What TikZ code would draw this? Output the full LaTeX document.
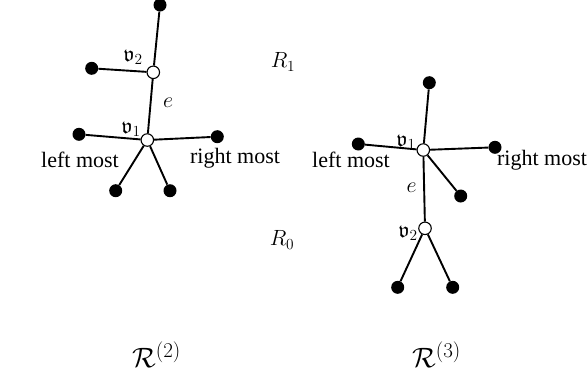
\RequirePackage{fix-cm}
\documentclass[tikz,border=0pt]{standalone}
\usepackage{amssymb}
\usepackage{fontspec}
\setmainfont{Liberation Serif}
\DeclareMathSizes{28}{28}{21}{16}
\begin{document}
\begin{tikzpicture}[x=1pt,y=-1pt,
  dot/.style={circle,fill=black,inner sep=0pt,minimum size=13pt},
  wv/.style={circle,draw=black,fill=white,line width=1.1pt,inner sep=0pt,minimum size=12.5pt},
  lbl/.style={inner sep=0pt,font=\fontsize{22}{26}\selectfont},
  captxt/.style={inner sep=0pt,font=\fontsize{28}{32}\selectfont},
  edge/.style={line width=1.9pt}]
\useasboundingbox (0,0) rectangle (588,376);
% left diagram R^(2)
\node[dot] (la) at (160,5) {};
\node[wv] (lv2) at (153.3,72.3) {};
\node[dot] (lb) at (91.7,68.3) {};
\node[wv] (lv1) at (147.3,140) {};
\node[dot] (lc) at (79,134.3) {};
\node[dot] (ld) at (217.3,136.7) {};
\node[dot] (le) at (115.7,190.7) {};
\node[dot] (lf) at (170,190.7) {};
\draw[edge] (la) -- (lv2);
\draw[edge] (lb) -- (lv2);
\draw[edge] (lv2) -- (lv1);
\draw[edge] (lc) -- (lv1);
\draw[edge] (ld) -- (lv1);
\draw[edge] (le) -- (lv1);
\draw[edge] (lf) -- (lv1);
\node[lbl] (lv2t) at (133,57) {$\mathfrak{v}_2$};
\node[lbl] (lv1t) at (131,129) {$\mathfrak{v}_1$};
\node[lbl] (let) at (168,103) {$e$};
\node[lbl] (llm) at (80,160) {left most};
\node[lbl] (lrm) at (235,158) {right most};
% region labels
\node[lbl] (r1) at (283,62) {$R_1$};
\node[lbl] (r0) at (282,240) {$R_0$};
% right diagram R^(3)
\node[dot] (ra) at (429.3,82.7) {};
\node[wv] (rv1) at (423.3,150) {};
\node[dot] (rb) at (358.3,144) {};
\node[dot] (rc) at (495,147.3) {};
\node[dot] (rd) at (460.7,196) {};
\node[wv] (rv2) at (425,228.3) {};
\node[dot] (re) at (397.7,287.3) {};
\node[dot] (rf) at (452.7,287.3) {};
\draw[edge] (ra) -- (rv1);
\draw[edge] (rb) -- (rv1);
\draw[edge] (rc) -- (rv1);
\draw[edge] (rd) -- (rv1);
\draw[edge] (rv1) -- (rv2);
\draw[edge] (re) -- (rv2);
\draw[edge] (rf) -- (rv2);
\node[lbl] (rv1t) at (406,142) {$\mathfrak{v}_1$};
\node[lbl] (rv2t) at (408,233) {$\mathfrak{v}_2$};
\node[lbl] (ret) at (411.7,188) {$e$};
\node[lbl] (rlm) at (351,160) {left most};
\node[lbl] (rrm) at (542,160) {right most};
% captions
\node[captxt] (c2) at (156.5,355) {$\mathcal{R}^{(2)}$};
\node[captxt] (c3) at (436.5,355) {$\mathcal{R}^{(3)}$};
\end{tikzpicture}
\end{document}
